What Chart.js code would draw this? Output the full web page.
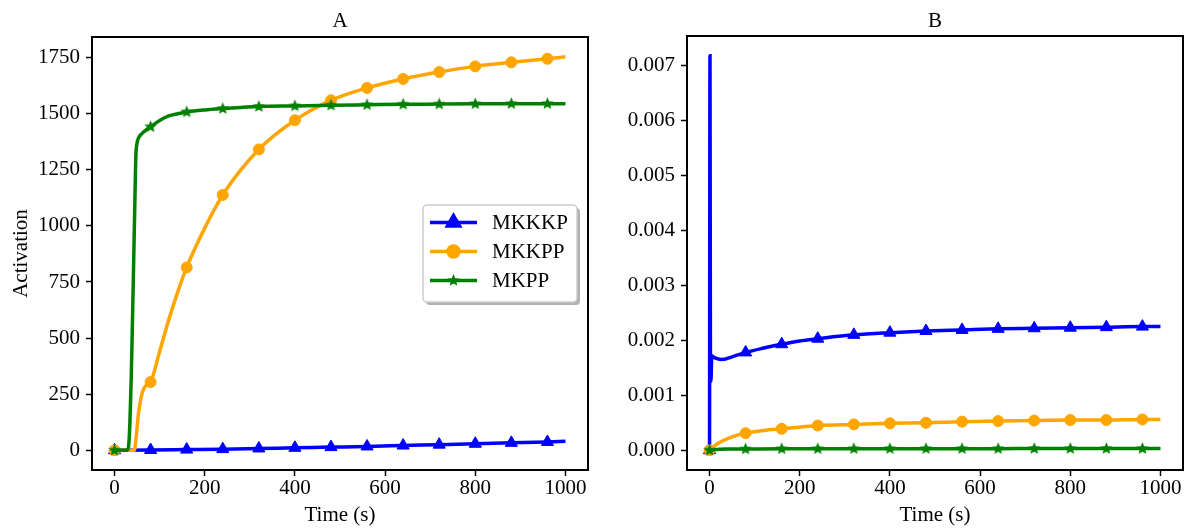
<!DOCTYPE html>
<html>
<head>
<meta charset="utf-8">
<script src="https://cdn.jsdelivr.net/npm/chart.js@4.4.1/dist/chart.umd.min.js"></script>
<style>
  body { margin: 0; background: #fff; }
  #wrap { position: relative; width: 1199px; height: 529px; }
  .panel { position: absolute; top: 0; height: 529px; }
</style>
</head>
<body>
<div id="wrap">
  <div class="panel" style="left:0;width:600px"><canvas id="chartA"></canvas></div>
  <div class="panel" style="left:600px;width:599px"><canvas id="chartB"></canvas></div>
</div>
<script>
// values
const seriesNames = ["MKKKP", "MKKPP", "MKPP"];
const panelTitles = ["A", "B"];
const markerTimes = [0, 80, 160, 240, 320, 400, 480, 560, 640, 720, 800, 880, 960];
const xTicks = [0, 200, 400, 600, 800, 1000];
const yTicksA = [0, 250, 500, 750, 1000, 1250, 1500, 1750];
const yTicksB = [0, 0.001, 0.002, 0.003, 0.004, 0.005, 0.006, 0.007];

// panel A
const timeA_MKKKP = [0, 80, 160, 240, 320, 400, 480, 560, 640, 720, 800, 880, 960, 1000];
const valA_MKKKP = [0, 1, 3, 5, 8, 11, 14, 17, 21, 25, 29, 33, 37, 40];
const timeA_MKKPP = [0, 40, 44, 47, 50, 53, 57, 61, 68, 80, 100, 120, 140, 160, 200, 240, 280, 320, 360, 400, 440, 480, 560, 640, 720, 800, 880, 960, 1000];
const valA_MKKPP = [0, 0, 0, 40, 100, 164, 215, 253, 285, 304, 440, 580, 705, 815, 990, 1138, 1250, 1341, 1412, 1471, 1520, 1560, 1615, 1655, 1686, 1711, 1729, 1745, 1754];
const timeA_MKPP = [0, 28, 31, 34, 37, 40, 43, 45, 47, 50, 54, 60, 70, 80, 100, 120, 140, 160, 200, 240, 280, 320, 400, 480, 560, 640, 720, 800, 880, 960, 1000];
const valA_MKPP = [0, 0, 15, 120, 320, 600, 900, 1100, 1300, 1370, 1395, 1410, 1428, 1442, 1470, 1490, 1500, 1508, 1517, 1523, 1528, 1532, 1535, 1538, 1540, 1542, 1543, 1544, 1545, 1545, 1545];

// panel B
const timeB_MKKKP = [0, 1, 2, 3, 5, 12, 26, 50, 80, 120, 160, 200, 240, 320, 400, 480, 560, 640, 720, 800, 880, 960, 1000];
const valB_MKKKP = [0, 0.00718, 0.0013, 0.00125, 0.00172, 0.00168, 0.00165, 0.0017, 0.00178, 0.00186, 0.00193, 0.00199, 0.00203, 0.0021, 0.00214, 0.00217, 0.00219, 0.00221, 0.00222, 0.00223, 0.00224, 0.00225, 0.00225];
const timeB_MKKPP = [0, 10, 20, 40, 60, 80, 120, 160, 200, 240, 320, 400, 480, 560, 640, 720, 800, 880, 960, 1000];
const valB_MKKPP = [0, 0.00007, 0.00013, 0.00021, 0.00027, 0.00031, 0.00036, 0.00039, 0.00042, 0.00045, 0.00047, 0.00049, 0.0005, 0.00052, 0.00053, 0.00054, 0.00055, 0.00055, 0.00056, 0.00056];
const timeB_MKPP = [0, 10, 40, 80, 160, 240, 320, 400, 480, 560, 640, 720, 800, 880, 960, 1000];
const valB_MKPP = [0, 0.00001, 0.00002, 0.000022, 0.000025, 0.000026, 0.000027, 0.000028, 0.000028, 0.000029, 0.000029, 0.00003, 0.00003, 0.00003, 0.00003, 0.00003];

const FONT = "'Liberation Serif', 'Times New Roman', serif";
const FONT_SIZE = 21;

function starImage(color, r) {
  const c = document.createElement("canvas");
  const s = Math.ceil(r * 2 + 2);
  c.width = s;
  c.height = s;
  const g = c.getContext("2d");
  g.fillStyle = color;
  g.beginPath();
  for (let i = 0; i < 10; i++) {
    const rr = i % 2 ? r * 0.45 : r;
    const ang = -Math.PI / 2 + (i * Math.PI) / 5;
    g.lineTo(s / 2 + rr * Math.cos(ang), s / 2 + rr * Math.sin(ang));
  }
  g.closePath();
  g.fill();
  return c;
}

const styles = [
  { color: "#0000ff", pointStyle: "triangle", radius: 7, order: 2 },
  { color: "#ffa500", pointStyle: "circle", radius: 5.5, order: 1 },
  { color: "#008000", pointStyle: starImage("#008000", 6.5), radius: 6, order: 0 },
];

function makeDataset(i, times, values) {
  const st = styles[i];
  return {
    label: seriesNames[i],
    data: times.map((t, k) => ({ x: t, y: values[k] })),
    borderColor: st.color,
    backgroundColor: st.color,
    borderWidth: 3.5,
    cubicInterpolationMode: "monotone",
    order: st.order,
    pointStyle: st.pointStyle,
    pointBackgroundColor: st.color,
    pointBorderColor: st.color,
    pointBorderWidth: 1,
    pointRadius: (ctx) => (ctx.raw && markerTimes.includes(ctx.raw.x) ? st.radius : 0),
    pointHoverRadius: 0,
  };
}

function roundRect(ctx, x, y, w, h, r) {
  ctx.beginPath();
  ctx.moveTo(x + r, y);
  ctx.arcTo(x + w, y, x + w, y + h, r);
  ctx.arcTo(x + w, y + h, x, y + h, r);
  ctx.arcTo(x, y + h, x, y, r);
  ctx.arcTo(x, y, x + w, y, r);
  ctx.closePath();
}

function drawLegend(chart) {
  const { ctx, chartArea: a } = chart;
  const w = 154, h = 97;
  const x = a.right - 11 - w;
  const y = (a.top + a.bottom) / 2 - h / 2;
  ctx.fillStyle = "rgba(0,0,0,0.3)";
  roundRect(ctx, x + 3, y + 3, w, h, 4);
  ctx.fill();
  ctx.fillStyle = "#fff";
  roundRect(ctx, x, y, w, h, 4);
  ctx.fill();
  ctx.strokeStyle = "#cccccc";
  ctx.lineWidth = 1.5;
  ctx.stroke();

  seriesNames.forEach((name, i) => {
    const st = styles[i];
    const ry = y + 17.5 + i * 29;
    ctx.strokeStyle = st.color;
    ctx.fillStyle = st.color;
    ctx.lineWidth = 3.5;
    ctx.beginPath();
    ctx.moveTo(x + 7, ry);
    ctx.lineTo(x + 54, ry);
    ctx.stroke();
    Chart.helpers.drawPoint(ctx, { pointStyle: st.pointStyle, radius: st.radius, rotation: 0, borderWidth: 1 }, x + 30.5, ry);
    ctx.fillStyle = "#000";
    ctx.font = FONT_SIZE + "px " + FONT;
    ctx.textAlign = "left";
    ctx.textBaseline = "middle";
    ctx.fillText(name, x + 69, ry + 1);
  });
}

const framePlugin = {
  id: "frame",
  afterDraw(chart, args, opts) {
    const { ctx, chartArea: a } = chart;
    ctx.save();
    ctx.strokeStyle = "#000";
    ctx.lineWidth = 2;
    ctx.strokeRect(a.left, a.top, a.right - a.left, a.bottom - a.top);
    ctx.fillStyle = "#000";
    ctx.font = FONT_SIZE + "px " + FONT;
    ctx.textAlign = "center";
    ctx.textBaseline = "alphabetic";
    ctx.fillText(opts.title, (a.left + a.right) / 2, 27);
    if (opts.legend) drawLegend(chart);
    ctx.restore();
  },
};

function buildChart(canvasId, datasets, cfg) {
  const tickFont = { family: FONT, size: FONT_SIZE };
  new Chart(document.getElementById(canvasId), {
    type: "line",
    data: { datasets },
    options: {
      responsive: true,
      maintainAspectRatio: false,
      devicePixelRatio: 1,
      animation: false,
      events: [],
      layout: { padding: { top: cfg.padTop, right: cfg.padRight, left: 0, bottom: 0 } },
      plugins: {
        legend: { display: false },
        tooltip: { enabled: false },
        frame: { title: cfg.title, legend: cfg.legend },
      },
      scales: {
        x: {
          type: "linear",
          min: -50,
          max: 1050,
          afterBuildTicks: (axis) => { axis.ticks = xTicks.map((v) => ({ value: v })); },
          afterFit: (scale) => { scale.height = 59; },
          ticks: { color: "#000", font: tickFont, padding: 0, maxRotation: 0, callback: (v) => String(v) },
          grid: { display: true, drawOnChartArea: false, drawTicks: true, tickLength: 6, tickWidth: 1.5, tickColor: "#000" },
          border: { display: false },
          title: { display: true, text: "Time (s)", color: "#000", font: tickFont, padding: { top: 0, bottom: 1 } },
        },
        y: {
          type: "linear",
          min: cfg.yMin,
          max: cfg.yMax,
          afterBuildTicks: (axis) => { axis.ticks = cfg.yTicks.map((v) => ({ value: v })); },
          afterFit: (scale) => { scale.width = cfg.yWidth; },
          ticks: { color: "#000", font: tickFont, padding: 6, callback: cfg.yFormat },
          grid: { display: true, drawOnChartArea: false, drawTicks: true, tickLength: 6, tickWidth: 1.5, tickColor: "#000" },
          border: { display: false },
          title: { display: !!cfg.yTitle, text: cfg.yTitle || "", color: "#000", font: tickFont, padding: { top: 9, bottom: 0 } },
        },
      },
    },
    plugins: [framePlugin],
  });
}

buildChart(
  "chartA",
  [
    makeDataset(0, timeA_MKKKP, valA_MKKKP),
    makeDataset(1, timeA_MKKPP, valA_MKKPP),
    makeDataset(2, timeA_MKPP, valA_MKPP),
  ],
  {
    title: panelTitles[0], legend: true, padTop: 37, padRight: 12, yWidth: 92,
    yMin: -88, yMax: 1842, yTicks: yTicksA, yTitle: "Activation",
    yFormat: (v) => String(v),
  }
);

buildChart(
  "chartB",
  [
    makeDataset(0, timeB_MKKKP, valB_MKKKP),
    makeDataset(1, timeB_MKKPP, valB_MKKPP),
    makeDataset(2, timeB_MKPP, valB_MKPP),
  ],
  {
    title: panelTitles[1], legend: false, padTop: 36, padRight: 16, yWidth: 87,
    yMin: -0.00036, yMax: 0.00754, yTicks: yTicksB, yTitle: "",
    yFormat: (v) => Number(v).toFixed(3),
  }
);
</script>
</body>
</html>
